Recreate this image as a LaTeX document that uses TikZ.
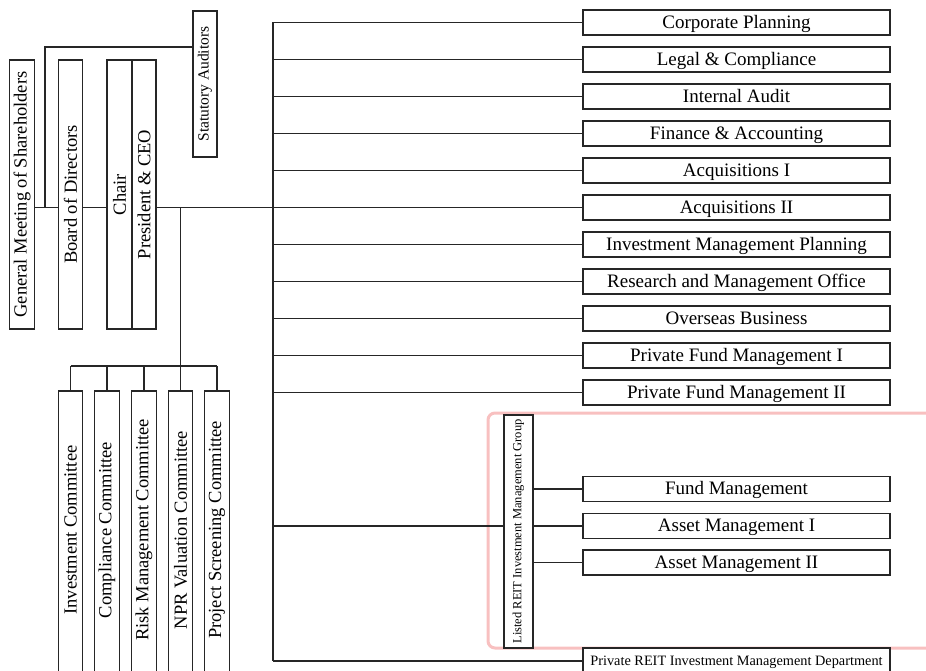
\documentclass[tikz,border=0pt]{standalone}
\usepackage{fontspec}
\setmainfont{Liberation Serif}
\usepackage{graphicx}
\definecolor{pinkline}{RGB}{248,192,192}
\tikzset{
  ln/.style={line width=1.1pt, draw=black!85},
  bx/.style={draw=black!85, line width=1.1pt, inner sep=0pt, fill=white},
  hbox/.style={bx, minimum width=307pt, minimum height=25pt, text height=15.6pt, text depth=4pt, font=\fontsize{19}{21}\selectfont},
  vbox/.style={bx, minimum width=24.5pt, font=\fontsize{18.5}{20}\selectfont},
}
\newcommand{\vtxt}[1]{\rotatebox{90}{#1}}
\begin{document}
\begin{tikzpicture}[x=1pt,y=-1pt]
\useasboundingbox (0,0) rectangle (926,671);
% group frame
\draw[draw=pinkline, line width=3pt, rounded corners=7pt] (488,413) rectangle (950,648);
% left column
\node[vbox, minimum height=269pt] (gms) at (22,194.5) {\vtxt{General Meeting of Shareholders}};
\node[vbox, minimum height=269pt] (bod) at (70.5,194.5) {\vtxt{Board of Directors}};
\node[vbox, minimum height=269pt, minimum width=25pt] (chair) at (119.5,194.5) {\vtxt{Chair}};
\node[vbox, minimum height=269pt, minimum width=24pt] (pres) at (144,194.5) {\vtxt{President \& CEO}};
\node[vbox, minimum height=146pt, minimum width=24pt, font=\fontsize{15.5}{17}\selectfont] (sa) at (205,84) {\vtxt{Statutory Auditors}};
% committees
\foreach \n/\x/\t in {c1/70.5/Investment Committee, c2/107/Compliance Committee, c3/144/Risk Management Committee, c4/180.5/NPR Valuation Committee, c5/217/Project Screening Committee}{
  \node[vbox, minimum height=294pt] (\n) at (\x,538) {\vtxt{\hspace*{16pt}\t}};
}
% right column
\foreach \n/\y/\t in {r1/22.5/Corporate Planning, r2/59.5/Legal \& Compliance, r3/96.5/Internal Audit, r4/133.5/Finance \& Accounting, r5/170.5/Acquisitions I, r6/207.5/Acquisitions II, r7/244.5/Investment Management Planning, r8/281.5/Research and Management Office, r9/318.5/Overseas Business, r10/355.5/Private Fund Management I, r11/392.5/Private Fund Management II}{
  \node[hbox] (\n) at (736.5,\y) {\t};
}
\node[hbox] (fm) at (736.5,489) {Fund Management};
\node[hbox] (am1) at (736.5,526) {Asset Management I};
\node[hbox] (am2) at (736.5,562.5) {Asset Management II};
\node[hbox, minimum height=26pt, text height=12.4pt, text depth=3pt, font=\fontsize{14.3}{16}\selectfont] (prd) at (736.5,661) {Private REIT Investment Management Department};
\node[bx, minimum width=29pt, minimum height=233pt, font=\fontsize{12.5}{14}\selectfont] (grp) at (518.5,531.5) {\vtxt{Listed REIT Investment Management Group}};
% helper coordinates
\coordinate (lev) at (0,207.5);
\coordinate (sah) at (0,47);
\coordinate (saj) at (45,207.5);
\coordinate (sp) at (273,0);
\coordinate (bus) at (0,366);
% connectors left
\draw[ln] (gms.east |- lev) -- (bod.west |- lev);
\draw[ln] (bod.east |- lev) -- (chair.west |- lev);
\draw[ln] (saj) |- (sa.west |- sah);
\draw[ln] (pres.east |- lev) -- (r6.west);
\draw[ln] (c4.north |- lev) -- (c4.north |- bus);
\draw[ln] (c1.north |- bus) -- (c5.north |- bus);
\foreach \n in {c1,c2,c3,c4,c5}{\draw[ln] (\n.north |- bus) -- (\n.north);}
% spine
\draw[ln] (sp |- r1.west) -- (sp |- prd.west);
\foreach \n in {r1,r2,r3,r4,r5,r6,r7,r8,r9,r10,r11,prd}{\draw[ln] (sp |- \n.west) -- (\n.west);}
\draw[ln] (sp |- am1.west) -- (grp.west |- am1.west);
\foreach \n in {fm,am1,am2}{\draw[ln] (grp.east |- \n.west) -- (\n.west);}
\end{tikzpicture}
\end{document}
